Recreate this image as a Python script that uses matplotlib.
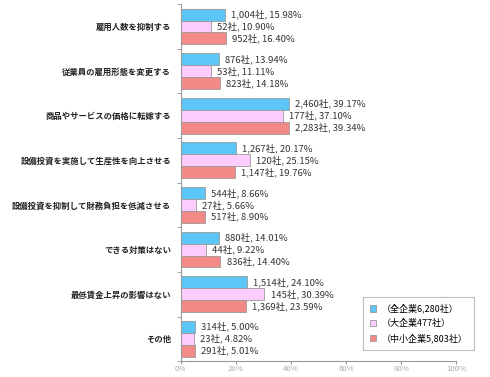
import numpy as np
import matplotlib.pyplot as plt
from matplotlib.ticker import MultipleLocator, FixedLocator

plt.rcParams['font.family'] = ['Noto Sans CJK JP', 'DejaVu Sans']

categories = [
    "雇用人数を抑制する",
    "従業員の雇用形態を変更する",
    "商品やサービスの価格に転嫁する",
    "設備投資を実施して生産性を向上させる",
    "設備投資を抑制して財務負担を低減させる",
    "できる対策はない",
    "最低賃金上昇の影響はない",
    "その他",
]
series_names = ["（全企業6,280社）", "（大企業477社）", "（中小企業5,803社）"]
counts_all = [1004, 876, 2460, 1267, 544, 880, 1514, 314]
pct_all = [15.98, 13.94, 39.17, 20.17, 8.66, 14.01, 24.10, 5.00]
counts_large = [52, 53, 177, 120, 27, 44, 145, 23]
pct_large = [10.90, 11.11, 37.10, 25.15, 5.66, 9.22, 30.39, 4.82]
counts_sme = [952, 823, 2283, 1147, 517, 836, 1369, 291]
pct_sme = [16.40, 14.18, 39.34, 19.76, 8.90, 14.40, 23.59, 5.01]

colors = ["#5cc7f7", "#ffccff", "#f48a88"]

fig = plt.figure(figsize=(4.90, 3.77), dpi=100)
ax = fig.add_axes([0.369, 0.042, 0.562, 0.947])

n = len(categories)
y = np.arange(n)
h = 0.267
series = [(counts_all, pct_all), (counts_large, pct_large), (counts_sme, pct_sme)]
for i, (cnt, pct) in enumerate(series):
    pos = y + (i - 1) * h
    ax.barh(pos, pct, height=h, color=colors[i], edgecolor="#999999",
            linewidth=0.6, label=series_names[i])
    for p, c, v in zip(pos, cnt, pct):
        ax.text(v + 2.2, p, f"{c:,}社, {v:.2f}%", va="center", ha="left",
                fontsize=6.8, color="#333333")

ax.set_xlim(0, 100)
ax.set_ylim(n - 0.5, -0.5)
ax.xaxis.set_major_locator(MultipleLocator(20))
ax.set_xticklabels([f"{int(t)}%" for t in ax.get_xticks()])
ax.tick_params(axis="x", labelsize=5.6, labelcolor="#aaaaaa", length=2,
               color="#999999", pad=1)
ax.set_yticks(y)
ax.set_yticklabels(categories, fontsize=6.0, fontweight="bold", color="#222222")
ax.yaxis.set_minor_locator(FixedLocator(np.arange(-0.5, n, 1)))
ax.tick_params(axis="y", which="major", length=0, pad=7)
ax.tick_params(axis="y", which="minor", length=3, color="#999999")

for s in ["top", "right"]:
    ax.spines[s].set_visible(False)
for s in ["left", "bottom"]:
    ax.spines[s].set_color("#999999")
    ax.spines[s].set_linewidth(0.8)

leg = ax.legend(loc="lower right", bbox_to_anchor=(1.08, 0.02), fontsize=6.5,
                frameon=True, fancybox=False, edgecolor="#aaaaaa",
                handlelength=0.7, handleheight=0.7, labelspacing=0.6,
                borderpad=0.7, handletextpad=0.6)
leg.get_frame().set_linewidth(0.8)

fig.savefig("out.png", dpi=100)
